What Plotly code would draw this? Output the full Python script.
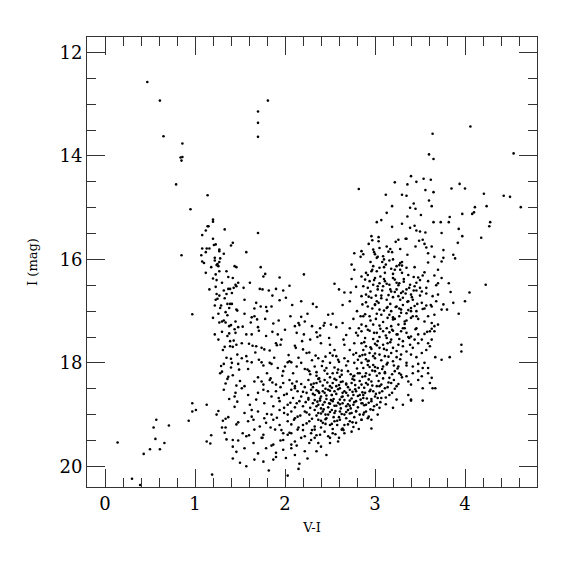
import plotly.graph_objects as go

# Bright / sparse stars (upper and blue side)
vi_bright = [0.47, 0.61, 0.65, 0.86, 0.84, 0.86, 0.85, 0.79, 0.95, 1.14, 0.85, 0.97,
             1.70, 1.70, 1.70, 1.81, 1.70, 2.82, 3.64, 3.60, 3.65, 4.06, 4.54]
i_bright = [12.57, 12.93, 13.62, 13.76, 14.03, 14.02, 14.09, 14.55, 15.03, 14.76, 15.92, 17.06,
            13.14, 13.36, 13.63, 12.93, 15.49, 14.64, 13.57, 13.97, 14.06, 13.43, 13.95]

# Faint blue side (lower left)
vi_blue = [0.14, 0.30, 0.39, 0.43, 0.50, 0.56, 0.54, 0.57, 0.61, 0.66, 0.71, 0.93, 0.97, 0.97, 1.01,
           1.13, 1.13, 1.17, 1.18, 1.19, 1.26, 1.30, 1.31, 1.34, 1.34, 1.37, 1.35, 1.42, 1.46, 1.42,
           1.48, 1.48, 1.46, 1.32, 1.44, 1.45, 1.47, 1.46, 1.30, 1.29, 1.32, 1.36, 1.37, 1.42, 1.40,
           1.40, 1.33, 1.39, 1.42, 1.39, 1.43, 1.46, 1.47, 1.48, 1.49]
i_blue = [19.54, 20.24, 20.36, 19.76, 19.67, 19.47, 19.25, 19.10, 19.67, 19.55, 19.21, 19.12, 18.78, 18.94, 18.91,
          18.81, 19.52, 19.56, 19.40, 20.16, 18.93, 19.25, 19.12, 19.25, 19.08, 19.05, 19.48, 19.49, 19.72, 19.85,
          19.50, 19.15, 19.19, 18.52, 18.65, 18.58, 18.75, 18.44, 18.17, 18.06, 18.02, 18.31, 18.27, 18.24, 18.09,
          17.92, 17.69, 17.68, 17.69, 17.58, 17.57, 17.65, 17.84, 18.02, 18.13]

# Left (blue) branch
vi_branch = [1.20, 1.20, 1.15, 1.14, 1.12, 1.33, 1.08, 1.20, 1.21, 1.23, 1.42, 1.40, 1.08, 1.13, 1.16,
             1.12, 1.27, 1.27, 1.32, 1.07, 1.22, 1.28, 1.22, 1.27, 1.08, 1.10, 1.25, 1.26, 1.24, 1.44,
             1.46, 1.27, 1.35, 1.12, 1.23, 1.20, 1.37, 1.42, 1.48, 1.16, 1.23, 1.32, 1.37, 1.39, 1.43,
             1.46, 1.45, 1.24, 1.27, 1.23, 1.25, 1.35, 1.29, 1.36, 1.39, 1.41, 1.22, 1.28, 1.38, 1.46,
             1.47, 1.34, 1.36, 1.20, 1.27, 1.30, 1.32, 1.34, 1.38, 1.40, 1.45, 1.48, 1.22, 1.38, 1.36, 1.45,
             1.26, 1.31, 1.35, 1.28, 1.34, 1.41, 1.44, 1.30, 1.26, 1.33, 1.41, 1.30, 1.18, 1.24, 1.44,
             1.38, 1.50, 1.24, 1.33, 1.42]
i_branch = [15.23, 15.27, 15.36, 15.36, 15.44, 15.42, 15.53, 15.60, 15.72, 15.71, 15.68, 15.73, 15.79, 15.79, 15.79,
            15.86, 15.84, 15.81, 15.89, 15.92, 15.97, 15.98, 16.02, 16.05, 16.04, 16.07, 16.09, 16.13, 16.11, 16.13,
            16.15, 16.23, 16.23, 16.26, 16.29, 16.37, 16.34, 16.36, 16.45, 16.58, 16.53, 16.60, 16.57, 16.57, 16.55,
            16.52, 16.49, 16.67, 16.70, 16.78, 16.76, 16.67, 16.89, 16.86, 16.86, 16.86, 16.89, 16.94, 16.94, 16.97,
            16.99, 17.02, 17.08, 17.13, 17.22, 17.20, 17.18, 17.22, 17.29, 17.27, 17.20, 17.31, 17.45, 17.43, 17.48, 17.42,
            17.55, 17.75, 17.90, 18.20, 18.40, 18.00, 17.35, 17.40, 17.05, 16.75, 16.65, 16.45, 16.15, 16.40, 18.85,
            18.70, 18.35, 19.00, 19.35, 19.62]

# Middle region (between the two branches)
vi_mid = [1.57, 1.73, 1.78, 1.76, 1.94, 2.21, 2.05, 1.54, 1.72, 1.75, 1.82, 1.90, 1.55, 1.94, 2.01,
          2.18, 1.68, 1.73, 1.79, 1.85, 1.80, 2.31, 2.35, 1.63, 1.66, 1.69, 1.70, 1.87, 2.11, 2.16,
          2.15, 2.18, 2.30,
          1.57, 1.63, 1.79, 1.92, 2.21, 2.35, 2.36, 1.52, 1.60, 1.64, 1.68, 1.74, 1.77, 1.83, 1.90,
          1.91, 1.95, 2.11, 2.12, 2.20, 2.24, 2.27, 2.34, 2.37, 1.52, 1.57, 1.58, 1.63, 1.71, 1.74,
          1.76, 1.83, 1.85, 1.92, 1.98, 2.00, 2.03, 2.05, 2.07, 2.13, 2.18, 2.22, 2.25, 2.27, 2.33, 2.35,
          1.55, 1.62, 1.71, 1.78, 1.86, 1.93, 2.00, 2.06, 2.13, 2.22, 2.28, 2.40, 2.45, 2.19, 2.04,
          1.96, 1.88, 1.80, 1.67, 1.59, 1.70, 1.84, 1.97, 2.09, 2.15, 2.30, 2.38, 2.55, 2.60, 1.53,
          1.66, 1.98, 2.08, 2.25, 1.61, 1.86]
i_mid = [15.86, 16.15, 16.28, 16.33, 16.35, 16.29, 16.51, 16.55, 16.57, 16.58, 16.60, 16.57, 16.78, 16.79, 16.74,
         16.81, 16.84, 16.91, 16.92, 16.91, 17.00, 16.86, 16.92, 17.12, 17.10, 17.16, 17.31, 17.24, 17.29, 17.27,
         17.23, 17.11, 17.29,
         17.45, 17.45, 17.48, 17.45, 17.45, 17.41, 17.50, 17.62, 17.63, 17.67, 17.68, 17.71, 17.74, 17.76, 17.62,
         17.66, 17.65, 17.67, 17.71, 17.74, 17.81, 17.80, 17.86, 17.91, 17.91, 17.87, 17.97, 17.99, 17.94, 17.99,
         18.05, 18.00, 18.02, 18.10, 18.16, 18.07, 17.99, 17.97, 17.99, 18.07, 18.00, 18.12, 18.13, 18.16, 18.07, 18.18,
         17.05, 17.22, 17.38, 17.15, 17.40, 17.18, 17.36, 17.10, 17.42, 17.20, 17.55, 17.62, 17.88, 17.58, 17.85,
         17.55, 17.90, 18.20, 17.80, 18.12, 18.28, 18.30, 18.25, 18.20, 17.90, 17.95, 18.30, 17.75, 17.98, 17.30,
         16.95, 16.60, 16.88, 17.05, 16.45, 16.70]

# Left edge of red giant branch
vi_rgb_left = [2.77, 2.74, 2.77, 2.74, 2.79, 2.55, 2.60, 2.66, 2.73, 2.64, 2.72, 2.80, 2.84, 2.76, 2.82,
               2.53, 2.48, 2.44, 2.43, 2.51, 2.57, 2.39, 2.72, 2.64]
i_rgb_left = [15.88, 16.10, 16.20, 16.38, 16.53, 16.47, 16.58, 16.64, 16.64, 16.88, 16.81, 17.00, 17.10, 17.15, 17.33,
              17.05, 17.07, 17.23, 17.28, 17.26, 17.31, 17.33, 17.33, 17.23]

# Dense lower region
vi_dense = [2.39, 2.68, 2.79, 2.81, 2.49, 2.50, 2.65, 2.66, 2.77, 2.50, 2.53, 2.57, 2.72, 2.76, 2.79,
            2.42, 2.50, 2.59, 2.66, 2.70, 2.77, 2.81, 2.46, 2.53, 2.59, 2.63, 2.70, 2.76, 2.81,
            1.55, 1.66, 1.74, 1.76, 1.83, 1.90, 1.98, 2.05, 2.11, 2.13, 2.26, 2.29, 2.35, 2.39, 2.44,
            2.50, 2.53, 2.57, 2.64, 2.68, 2.74, 2.77,
            1.52, 1.59, 1.70, 1.76, 1.85, 1.90, 1.99, 2.07, 2.11, 2.14, 2.18, 2.24, 2.29, 2.33, 2.37,
            2.40, 2.44, 2.48, 2.52, 2.55, 2.61, 2.64, 2.68, 2.72, 2.76, 2.79,
            1.61, 1.68, 1.77, 1.87, 1.94, 2.03, 2.09, 2.13, 2.16, 2.20, 2.26, 2.31, 2.35, 2.39, 2.42,
            2.46, 2.50, 2.53, 2.57, 2.61, 2.64, 2.68, 2.72, 2.76, 2.79,
            1.55, 1.63, 1.70, 1.77, 1.85, 1.94, 1.99, 2.07, 2.14, 2.22, 2.27, 2.33, 2.37, 2.42, 2.48,
            2.52, 2.55, 2.61, 2.66, 2.70, 2.74, 2.79,
            1.59, 1.63, 1.72, 1.79, 1.87, 1.94, 2.03, 2.11, 2.20, 2.27, 2.33, 2.37, 2.42, 2.46, 2.50,
            2.55, 2.61, 2.66, 2.72, 2.79,
            1.53, 1.66, 1.76, 1.89, 1.98, 2.03, 2.07, 2.14, 2.22, 2.29, 2.33, 2.39, 2.44, 2.48, 2.53,
            2.63, 2.66, 2.74,
            1.57, 1.65, 1.74, 1.87, 1.98, 2.07, 2.11, 2.18, 2.29, 2.37, 2.50, 2.59,
            1.55, 1.79, 1.90, 1.98, 2.07, 2.11, 2.22, 2.35, 2.46,
            1.50, 1.57, 1.66, 1.76, 1.87, 2.01, 2.16, 2.03,
            1.65, 1.75, 1.85, 1.95, 2.05, 2.13, 2.20, 2.27, 2.33, 2.40, 2.50, 2.60, 1.70, 1.90, 2.25,
            2.15, 1.82, 1.60, 2.65, 2.82]
i_dense = [17.47, 17.46, 17.42, 17.47, 17.52, 17.65, 17.55, 17.65, 17.62, 17.81, 17.86, 17.87, 17.75, 17.84, 17.81,
           17.97, 18.00, 17.94, 17.91, 17.97, 18.00, 17.94, 18.10, 18.20, 18.13, 18.23, 18.16, 18.26, 18.20,
           18.45, 18.36, 18.36, 18.42, 18.33, 18.42, 18.39, 18.33, 18.45, 18.36, 18.33, 18.42, 18.39, 18.36, 18.33,
           18.45, 18.39, 18.33, 18.36, 18.42, 18.39, 18.33,
           18.49, 18.62, 18.58, 18.52, 18.65, 18.55, 18.62, 18.52, 18.49, 18.55, 18.65, 18.58, 18.52, 18.62, 18.55,
           18.65, 18.58, 18.52, 18.62, 18.55, 18.49, 18.65, 18.58, 18.52, 18.62, 18.55,
           18.81, 18.71, 18.78, 18.84, 18.74, 18.81, 18.68, 18.78, 18.74, 18.84, 18.71, 18.78, 18.84, 18.73, 18.81,
           18.70, 18.79, 18.74, 18.83, 18.71, 18.78, 18.84, 18.73, 18.81, 18.74,
           18.97, 18.91, 18.94, 19.07, 19.00, 18.91, 18.97, 18.94, 19.04, 18.94, 19.00, 18.91, 18.97, 18.94, 19.00,
           18.91, 18.97, 18.94, 19.00, 18.91, 18.97, 18.94,
           19.13, 19.04, 19.23, 19.16, 19.10, 19.20, 19.13, 19.07, 19.20, 19.13, 19.23, 19.10, 19.16, 19.07, 19.20,
           19.13, 19.10, 19.20, 19.13, 19.16,
           19.36, 19.29, 19.39, 19.29, 19.36, 19.39, 19.36, 19.29, 19.42, 19.36, 19.29, 19.39, 19.33, 19.42, 19.36,
           19.29, 19.36, 19.33,
           19.42, 19.55, 19.45, 19.58, 19.49, 19.58, 19.52, 19.45, 19.49, 19.55, 19.45, 19.52,
           19.65, 19.65, 19.74, 19.68, 19.65, 19.78, 19.71, 19.71, 19.78,
           19.93, 20.00, 19.87, 19.91, 19.87, 19.84, 19.95, 20.18,
           19.10, 19.45, 19.60, 19.50, 19.35, 19.60, 19.30, 19.55, 19.45, 19.62, 19.55, 19.45, 19.75, 19.82, 19.85,
           20.05, 20.08, 19.40, 19.30, 19.28]

# Extra stars in the crowded core of the lower clump
vi_core = [2.41, 2.47, 2.55, 2.61, 2.68, 2.73, 2.80, 2.86, 2.92, 2.97, 3.02, 3.08, 3.13, 3.19, 3.25,
           3.30, 2.35, 2.28, 2.44, 2.58,
           2.31, 2.37, 2.42, 2.47, 2.52, 2.55, 2.60, 2.62, 2.70, 2.75, 2.78, 2.83, 2.88, 2.93, 2.97,
           3.04, 3.09, 3.14, 3.21, 3.26, 2.18, 2.22, 2.08, 1.95, 1.86,
           2.20, 2.26, 2.31, 2.35, 2.39, 2.42, 2.46, 2.50, 2.54, 2.57, 2.59, 2.63, 2.66, 2.70, 2.74,
           2.78, 2.81, 2.86, 2.91, 2.95, 3.01, 3.08, 3.12, 3.19, 2.02, 1.93, 1.81,
           2.23, 2.28, 2.33, 2.37, 2.40, 2.44, 2.48, 2.51, 2.55, 2.59, 2.62, 2.66, 2.70, 2.73, 2.77,
           2.81, 2.84, 2.88, 2.93, 2.99, 3.06, 3.12, 2.06, 2.11, 1.99,
           2.17, 2.24, 2.30, 2.35, 2.40, 2.45, 2.50, 2.54, 2.58, 2.63, 2.68, 2.72, 2.77, 2.83, 2.88,
           2.93, 2.10, 2.03, 1.91, 1.80,
           2.15, 2.24, 2.30, 2.40, 2.45, 2.53, 2.58, 2.64, 2.70, 2.76, 2.07, 1.96, 1.84, 2.35, 2.56,
           2.32, 2.38, 2.45, 2.52, 2.57, 2.64, 2.68, 2.75, 2.82, 2.87, 2.92, 2.98, 3.05, 3.15, 3.22,
           2.36, 2.43, 2.49, 2.56, 2.61, 2.68, 2.72, 2.79, 2.86, 2.95, 3.03, 2.50, 2.63, 2.77, 2.90,
           3.00, 3.11, 3.27, 3.35, 2.45, 2.60, 2.75, 2.85, 2.52, 2.40]
i_core = [18.06, 18.21, 18.09, 18.27, 18.05, 18.22, 18.11, 18.27, 18.04, 18.15, 18.25, 18.12, 18.03, 18.22, 18.11,
          18.28, 18.25, 18.22, 18.15, 18.19,
          18.47, 18.31, 18.44, 18.38, 18.48, 18.31, 18.43, 18.37, 18.47, 18.31, 18.43, 18.35, 18.48, 18.32, 18.44,
          18.35, 18.30, 18.47, 18.33, 18.41, 18.41, 18.47, 18.40, 18.47, 18.38,
          18.56, 18.68, 18.60, 18.53, 18.69, 18.55, 18.63, 18.54, 18.70, 18.60, 18.51, 18.66, 18.55, 18.63, 18.69,
          18.51, 18.64, 18.57, 18.69, 18.52, 18.60, 18.55, 18.67, 18.58, 18.60, 18.68, 18.55,
          18.76, 18.87, 18.72, 18.81, 18.88, 18.76, 18.86, 18.72, 18.83, 18.77, 18.88, 18.72, 18.80, 18.88, 18.76,
          18.86, 18.71, 18.82, 18.77, 18.84, 18.76, 18.80, 18.77, 18.86, 18.87,
          19.02, 18.96, 19.08, 19.02, 18.98, 19.09, 18.95, 19.05, 19.12, 18.99, 19.07, 18.98, 19.05, 19.00, 18.96,
          19.04, 19.10, 19.00, 19.06, 18.99,
          19.25, 19.17, 19.30, 19.25, 19.18, 19.28, 19.20, 19.27, 19.19, 19.24, 19.19, 19.30, 19.25, 19.40, 19.38,
          18.40, 18.58, 18.50, 18.62, 18.45, 18.58, 18.40, 18.56, 18.48, 18.62, 18.42, 18.55, 18.45, 18.38, 18.50,
          18.75, 18.90, 18.78, 18.93, 18.80, 18.95, 18.83, 18.93, 18.78, 18.90, 18.68, 18.28, 18.15, 18.25, 18.20,
          18.08, 18.20, 18.20, 18.05, 19.00, 19.05, 19.15, 19.10, 19.18, 19.12]

# Red giant branch, lower part
vi_rgb_low = [2.85, 2.94, 3.02, 3.09, 3.16, 3.20, 3.24, 3.29, 3.35, 3.40, 3.48, 3.55, 3.61, 3.66, 2.89,
              2.98, 3.05, 3.13, 3.18, 3.27, 3.37, 3.44,
              2.85, 2.90, 3.00, 3.03, 3.09, 3.14, 3.20, 3.26, 3.31, 3.39, 3.42, 3.48, 3.59, 3.63, 3.61,
              3.57, 3.96, 3.96, 2.87, 2.96, 3.05, 3.13,
              2.83, 2.89, 2.94, 3.00, 3.05, 3.11, 3.18, 3.24, 3.29, 3.35, 3.40, 3.46, 3.52, 3.67, 3.74,
              3.83, 2.90, 2.98,
              2.85, 2.92, 2.98, 3.03, 3.09, 3.14, 3.20, 3.26, 3.35, 3.42, 3.48, 3.53, 3.59, 3.55, 2.87, 2.94,
              2.83, 2.89, 2.94, 3.00, 3.05, 3.11, 3.16, 3.22, 3.29, 3.35, 3.42, 3.48, 3.52, 3.59, 3.63, 3.61,
              2.85, 2.90, 2.96, 3.02, 3.07, 3.11, 3.18, 3.24, 3.37, 3.40, 3.48, 3.64, 3.67, 3.53,
              2.83, 2.89, 2.94, 3.00, 3.05, 3.07, 3.16, 3.24, 3.37, 3.40, 3.53, 2.87, 2.96,
              2.85, 2.90, 2.96, 3.02, 2.98, 3.05, 3.20, 3.31, 3.40,
              2.87, 2.92, 2.96, 2.90, 2.85, 3.03, 2.96]
i_rgb_low = [17.39, 17.38, 17.42, 17.39, 17.41, 17.38, 17.45, 17.39, 17.42, 17.49, 17.45, 17.44, 17.39, 17.39, 17.52,
             17.54, 17.50, 17.52, 17.55, 17.54, 17.50, 17.55,
             17.62, 17.68, 17.63, 17.58, 17.65, 17.62, 17.71, 17.65, 17.68, 17.65, 17.71, 17.62, 17.62, 17.55, 17.68,
             17.75, 17.65, 17.78, 17.75, 17.73, 17.71, 17.75,
             17.87, 17.84, 17.81, 17.91, 17.84, 17.87, 17.81, 17.89, 17.84, 17.78, 17.84, 17.89, 17.81, 17.89, 17.94,
             17.89, 17.93, 17.87,
             18.00, 17.97, 18.04, 18.10, 18.07, 18.00, 17.97, 18.07, 18.00, 18.07, 18.02, 18.10, 18.10, 18.00, 18.10, 18.08,
             18.20, 18.26, 18.23, 18.16, 18.20, 18.18, 18.29, 18.16, 18.23, 18.26, 18.20, 18.16, 18.26, 18.20, 18.29, 18.39,
             18.42, 18.39, 18.36, 18.45, 18.42, 18.49, 18.39, 18.45, 18.36, 18.42, 18.33, 18.49, 18.49, 18.49,
             18.62, 18.58, 18.55, 18.65, 18.58, 18.68, 18.62, 18.71, 18.62, 18.71, 18.73, 18.68, 18.70,
             18.78, 18.81, 18.74, 18.81, 18.91, 18.87, 18.87, 18.81, 18.73,
             19.00, 19.07, 19.10, 18.94, 19.10, 19.00, 19.27]

# Red giant branch, upper part
vi_rgb_up = [3.40, 3.54, 3.62, 3.46, 3.22, 3.36, 3.94, 4.00, 3.85, 3.56, 3.65, 3.12, 3.30, 3.35, 4.21, 4.43, 4.50,
             3.60, 3.43, 3.19, 3.63, 3.39, 3.45, 4.11, 4.24, 4.62,
             3.13, 3.36, 3.51, 3.97, 4.08, 4.10, 3.83, 3.07, 3.02, 3.30, 3.65, 3.73, 3.82, 4.28, 4.27,
             3.19, 3.39, 3.44, 3.46, 3.50, 3.56, 3.74, 3.93, 3.97, 4.18,
             2.96, 3.04, 2.97, 3.04, 3.26, 3.23, 3.34, 3.49, 3.53, 3.92,
             3.13, 3.05, 2.98, 3.17, 3.28, 3.57, 3.63, 3.76, 2.99, 3.19, 3.36, 3.59, 3.87, 3.76,
             3.09, 3.02, 3.10, 3.16, 3.28, 3.27, 3.24, 3.59, 3.74, 3.89, 2.85, 2.84,
             2.98, 3.05, 3.10, 3.18, 3.28, 3.35, 2.90, 2.96, 3.02, 3.11, 3.20, 3.30, 3.43, 3.48, 3.53, 3.66, 3.74,
             2.85, 2.89, 2.94, 3.00, 3.05, 3.11, 3.16, 3.22, 3.27, 3.32, 3.39, 3.44, 3.50, 3.59, 3.70, 3.82, 3.84,
             4.23, 4.05,
             2.87, 2.92, 2.98, 3.03, 3.09, 3.18, 3.24, 3.29, 3.35, 3.40, 3.46, 3.52, 3.57, 3.64, 3.70,
             2.85, 2.90, 2.96, 3.02, 3.07, 3.13, 3.20, 3.26, 3.31, 3.37, 3.42, 3.52, 3.57, 3.63, 3.68, 3.76, 3.80,
             3.87, 3.93, 4.00,
             2.86, 2.92, 3.00, 3.05, 3.13, 3.18, 3.24, 3.29, 3.35, 3.40, 3.46, 3.53, 3.59, 3.66, 3.74,
             2.87, 2.94, 3.01, 3.07, 3.14, 3.20, 3.27, 3.33, 3.40, 3.46, 3.55, 3.63, 3.70,
             2.85, 2.90, 2.98, 3.05, 3.13, 3.18, 3.26, 3.31, 3.46, 3.63, 3.66]
i_rgb_up = [14.39, 14.44, 14.46, 14.50, 14.51, 14.55, 14.54, 14.63, 14.63, 14.66, 14.70, 14.75, 14.75, 14.77, 14.73, 14.77, 14.79,
            14.86, 14.92, 14.97, 14.97, 15.00, 15.02, 14.99, 14.97, 14.99,
            15.10, 15.17, 15.14, 15.12, 15.12, 15.09, 15.18, 15.24, 15.28, 15.31, 15.28, 15.28, 15.28, 15.28, 15.36,
            15.37, 15.39, 15.35, 15.44, 15.46, 15.48, 15.49, 15.41, 15.55, 15.58,
            15.55, 15.57, 15.63, 15.65, 15.62, 15.66, 15.60, 15.64, 15.62, 15.68,
            15.75, 15.78, 15.81, 15.80, 15.80, 15.77, 15.75, 15.82, 15.86, 15.86, 15.91, 15.88, 15.91, 15.97,
            15.94, 15.97, 16.00, 16.02, 16.07, 16.11, 16.13, 16.06, 16.04, 15.98, 15.84, 15.95,
            16.13, 16.16, 16.15, 16.18, 16.20, 16.16, 16.26, 16.23, 16.23, 16.26, 16.28, 16.26, 16.34, 16.35, 16.31, 16.31, 16.36,
            16.33, 16.39, 16.42, 16.36, 16.46, 16.42, 16.49, 16.39, 16.46, 16.38, 16.49, 16.52, 16.55, 16.42, 16.46, 16.46, 16.63,
            16.49, 16.64,
            16.52, 16.55, 16.49, 16.58, 16.52, 16.62, 16.58, 16.65, 16.58, 16.68, 16.60, 16.62, 16.66, 16.71, 16.68,
            16.71, 16.68, 16.74, 16.81, 16.70, 16.78, 16.73, 16.71, 16.74, 16.81, 16.78, 16.84, 16.89, 16.91, 16.81, 16.87, 16.97,
            16.84, 17.05, 16.81,
            16.87, 16.91, 16.87, 16.97, 16.94, 17.00, 16.91, 16.97, 17.04, 16.94, 17.00, 16.96, 17.10, 17.07, 16.97,
            17.10, 17.10, 17.15, 17.07, 17.13, 17.16, 17.10, 17.20, 17.13, 17.10, 17.20, 17.23, 17.26,
            17.26, 17.29, 17.26, 17.28, 17.33, 17.29, 17.26, 17.33, 17.33, 17.34, 17.29]

# Extra stars in the crowded part of the red giant branch
vi_rgb_core = [2.92, 2.99, 3.06, 3.13, 3.20, 3.26, 3.32, 3.38, 3.46,
               2.95, 3.01, 3.08, 3.15, 3.22, 3.28, 3.34, 3.41, 3.47,
               2.90, 2.97, 3.04, 3.10, 3.17, 3.23, 3.31, 3.37, 3.44,
               2.89, 2.95, 3.02, 3.09, 3.16, 3.22, 3.29, 3.35, 3.42,
               2.92, 2.99, 3.06, 3.12, 3.19, 3.25, 3.33, 3.38,
               2.88, 2.95, 3.02, 3.10, 3.17, 3.24, 3.31,
               2.86, 2.93, 3.00, 3.07, 3.15, 3.21, 3.28,
               2.87, 2.95, 3.03, 3.12, 3.20, 3.30,
               2.93, 3.00, 3.08, 3.15, 3.22, 3.30, 3.37, 3.44, 3.50, 3.55, 2.97, 3.03, 3.10, 3.17, 3.24,
               3.31, 3.36, 3.43, 3.50, 3.57, 2.93, 3.00, 3.07, 3.14, 3.20, 3.27, 3.33, 3.40, 3.48, 3.55,
               3.62, 3.58, 3.52, 3.45, 3.68, 3.70, 3.66, 3.55, 3.45, 3.35]
i_rgb_core = [16.30, 16.40, 16.33, 16.47, 16.36, 16.50, 16.43, 16.55, 16.45,
              16.62, 16.70, 16.60, 16.69, 16.63, 16.78, 16.66, 16.73, 16.86,
              16.83, 16.95, 16.84, 16.99, 16.86, 16.92, 16.88, 16.98, 16.90,
              17.06, 17.18, 17.05, 17.21, 17.07, 17.15, 17.03, 17.18, 17.10,
              17.36, 17.42, 17.34, 17.47, 17.36, 17.45, 17.33, 17.52,
              17.60, 17.70, 17.66, 17.73, 17.60, 17.77, 17.58,
              17.85, 17.96, 17.82, 17.95, 17.88, 18.05, 17.93,
              15.90, 16.05, 15.95, 16.10, 16.00, 16.12,
              15.70, 15.90, 16.05, 15.85, 16.20, 16.05, 16.30, 16.15, 16.40, 16.25, 16.20, 16.52, 16.38, 16.58, 16.45,
              16.62, 16.82, 16.60, 16.70, 16.55, 16.72, 16.88, 16.75, 16.92, 17.12, 16.95, 17.25, 17.00, 17.15, 16.95,
              16.88, 17.40, 17.55, 17.35, 16.50, 16.20, 15.95, 15.70, 15.75, 15.60]

vi_all = (vi_bright + vi_blue + vi_branch + vi_mid + vi_rgb_left + vi_dense + vi_core
          + vi_rgb_low + vi_rgb_up + vi_rgb_core)
i_all = (i_bright + i_blue + i_branch + i_mid + i_rgb_left + i_dense + i_core
         + i_rgb_low + i_rgb_up + i_rgb_core)

x_ticks = [0, 1, 2, 3, 4]
y_ticks = [12, 14, 16, 18, 20]

fig = go.Figure(go.Scatter(
    x=vi_all, y=i_all, mode="markers",
    marker=dict(size=2.6, color="black", line=dict(width=0)),
    hoverinfo="skip"))

axis_font = dict(family="DejaVu Serif", size=18, color="black")
common = dict(showline=True, linecolor="#333", linewidth=1, mirror="allticks",
              ticks="inside", ticklen=18, tickwidth=1, tickcolor="#333",
              showgrid=False, zeroline=False, tickfont=axis_font)

fig.update_xaxes(range=[-0.2, 4.8], tickvals=x_ticks, ticktext=[str(v) for v in x_ticks],
                 minor=dict(dtick=0.2, tick0=0, ticks="inside", ticklen=9, tickcolor="#333", showgrid=False),
                 title=dict(text="V-I", font=dict(family="DejaVu Serif", size=13, color="black"), standoff=10),
                 **common)
fig.update_yaxes(range=[20.4, 11.7], tickvals=y_ticks, ticktext=[str(v) for v in y_ticks],
                 minor=dict(dtick=0.5, tick0=12, ticks="inside", ticklen=9, tickcolor="#333", showgrid=False),
                 title=dict(text="I (mag)", font=dict(family="DejaVu Serif", size=13, color="black"), standoff=18),
                 **common)

# page body adds an 8px margin, so the figure is 8px smaller and margins shifted
fig.update_layout(width=567, height=567, margin=dict(l=79, r=38, t=29, b=88),
                  plot_bgcolor="white", paper_bgcolor="white", showlegend=False)

fig.write_html("out.html")
